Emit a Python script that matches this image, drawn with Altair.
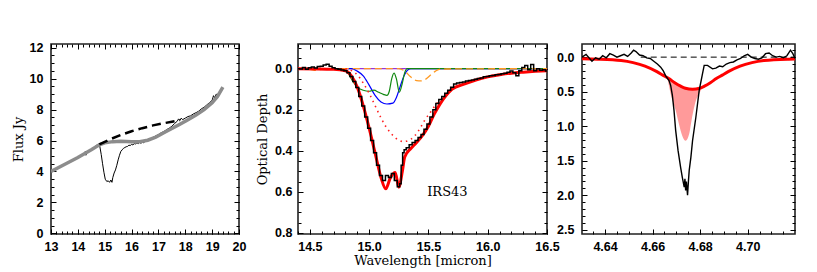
import altair as alt
import pandas as pd
import numpy as np

# ---------------- Panel 1: flux spectrum ----------------
p1_spec_x = [13.0, 13.1, 13.2, 13.3, 13.4, 13.5, 13.6, 13.7, 13.8, 13.9, 14.0, 14.1, 14.2, 14.28, 14.3, 14.33,
             14.4, 14.5, 14.6, 14.7, 14.78, 14.82, 14.87, 14.92, 14.97, 15.02, 15.08, 15.13, 15.18, 15.23, 15.27,
             15.3, 15.35, 15.4, 15.45, 15.5, 15.55, 15.6, 15.65, 15.7, 15.75, 15.8, 15.85, 15.9, 15.95, 16.0,
             16.05, 16.1, 16.15, 16.2, 16.25, 16.3, 16.35, 16.4, 16.45, 16.5, 16.6, 16.7, 16.8, 16.9, 17.0,
             17.1, 17.2, 17.3, 17.4, 17.5, 17.6, 17.7, 17.75, 17.8, 17.85, 17.9, 17.95, 18.0, 18.1, 18.2, 18.3,
             18.4, 18.5, 18.6, 18.7, 18.8, 18.9, 19.0, 19.05, 19.1, 19.15, 19.2, 19.25, 19.3, 19.35]
p1_spec_y = [4.0, 4.08, 4.18, 4.25, 4.38, 4.42, 4.55, 4.6, 4.72, 4.8, 4.92, 4.98, 5.1, 5.3, 5.05, 5.25,
             5.3, 5.45, 5.55, 5.7, 5.78, 5.6, 5.1, 4.5, 3.95, 3.5, 3.35, 3.4, 3.3, 3.45, 3.3,
             3.6, 3.9, 4.1, 4.4, 4.75, 5.05, 5.3, 5.4, 5.5, 5.55, 5.6, 5.62, 5.7, 5.68, 5.75,
             5.72, 5.8, 5.78, 5.85, 5.8, 5.88, 5.82, 5.9, 5.85, 5.95, 6.0, 6.1, 6.2, 6.3, 6.38,
             6.5, 6.58, 6.7, 6.8, 6.92, 7.1, 7.25, 7.4, 7.3, 7.45, 7.35, 7.4, 7.45, 7.55, 7.6, 7.72,
             7.8, 7.9, 8.05, 8.15, 8.3, 8.45, 8.6, 8.9, 8.75, 9.0, 8.95, 9.1, 9.2, 9.3]
p1_cont_x = [13.0, 13.5, 14.0, 14.5, 14.8, 15.0, 15.3, 15.6, 16.0, 16.3, 16.6, 16.9, 17.2, 17.5, 17.8, 18.1,
             18.4, 18.7, 19.0, 19.2, 19.4]
p1_cont_y = [4.0, 4.45, 4.9, 5.4, 5.72, 5.85, 5.93, 5.95, 5.93, 5.93, 6.02, 6.22, 6.5, 6.78, 7.05, 7.35,
             7.65, 8.0, 8.45, 8.85, 9.45]
p1_dash_x = [14.8, 15.2, 15.6, 16.0, 16.4, 16.8, 17.2, 17.5, 17.8]
p1_dash_y = [5.75, 6.08, 6.36, 6.6, 6.8, 6.98, 7.12, 7.22, 7.32]

# ---------------- Panel 2: 15 micron optical depth ----------------
p2_obs_x = [14.400, 14.425, 14.450, 14.475, 14.500, 14.525, 14.550, 14.575, 14.600, 14.625, 14.650, 14.675,
            14.700, 14.725, 14.750, 14.775, 14.800, 14.825, 14.850, 14.875, 14.900, 14.925, 14.950, 14.975,
            15.000, 15.025, 15.050, 15.075, 15.100, 15.125, 15.150, 15.175, 15.200, 15.225, 15.250, 15.265,
            15.275, 15.290, 15.300, 15.325, 15.350, 15.375, 15.400, 15.425, 15.450, 15.475, 15.500, 15.525,
            15.550, 15.575, 15.600, 15.625, 15.650, 15.675, 15.700, 15.725, 15.750, 15.775, 15.800, 15.825,
            15.850, 15.875, 15.900, 15.925, 15.950, 15.975, 16.000, 16.025, 16.050, 16.075, 16.100, 16.125,
            16.150, 16.175, 16.200, 16.225, 16.250, 16.275, 16.300, 16.325, 16.350, 16.375, 16.400, 16.425,
            16.450, 16.475, 16.500]
p2_obs_y = [0.000, 0.002, -0.005, 0.003, -0.004, -0.008, -0.003, -0.010, -0.012, -0.018, -0.022, -0.012,
            -0.004, 0.000, 0.003, 0.006, 0.010, 0.020, 0.038, 0.062, 0.092, 0.135, 0.182, 0.235,
            0.290, 0.350, 0.410, 0.470, 0.520, 0.545, 0.520, 0.530, 0.510, 0.545, 0.575, 0.560,
            0.470, 0.410, 0.395, 0.385, 0.370, 0.360, 0.350, 0.335, 0.320, 0.295, 0.270, 0.235,
            0.200, 0.170, 0.150, 0.135, 0.120, 0.105, 0.090, 0.075, 0.070, 0.068, 0.065, 0.060,
            0.058, 0.055, 0.052, 0.048, 0.045, 0.040, 0.038, 0.035, 0.033, 0.030, 0.028, 0.025,
            0.022, 0.018, 0.012, 0.020, 0.035, 0.010, -0.005, -0.015, 0.005, -0.020, 0.010, 0.000,
            0.008, 0.005, 0.012]
p2_fit_x = [14.4, 14.7, 14.8, 14.85, 14.9, 14.95, 15.0, 15.05, 15.1, 15.14, 15.18, 15.22, 15.25, 15.28, 15.3,
            15.35, 15.4, 15.45, 15.5, 15.55, 15.6, 15.65, 15.7, 15.8, 15.9, 16.0, 16.1, 16.2, 16.3, 16.4, 16.5]
p2_fit_y = [0.0, 0.003, 0.01, 0.035, 0.09, 0.18, 0.29, 0.41, 0.53, 0.585, 0.53, 0.505, 0.577, 0.5, 0.43,
            0.39, 0.36, 0.325, 0.28, 0.22, 0.17, 0.13, 0.1, 0.075, 0.055, 0.04, 0.03, 0.022, 0.017, 0.013, 0.01]
p2_broad_x = [14.8, 14.9, 14.95, 15.0, 15.05, 15.1, 15.15, 15.2, 15.25, 15.29, 15.33, 15.38, 15.43, 15.47,
              15.52, 15.57, 15.65, 15.7, 15.8, 15.9, 16.0, 16.1, 16.2, 16.3, 16.4, 16.5]
p2_broad_y = [0.0, 0.03, 0.07, 0.12, 0.18, 0.24, 0.29, 0.325, 0.348, 0.355, 0.35, 0.33, 0.29, 0.25,
              0.21, 0.17, 0.13, 0.1, 0.075, 0.055, 0.04, 0.03, 0.022, 0.017, 0.013, 0.01]
p2_blue_x = [14.4, 14.85, 14.9, 14.95, 15.0, 15.05, 15.1, 15.15, 15.2, 15.23, 15.26, 15.29, 15.32, 15.35, 16.5]
p2_blue_y = [0.0, 0.0, 0.012, 0.035, 0.08, 0.13, 0.162, 0.172, 0.168, 0.14, 0.09, 0.04, 0.01, 0.0, 0.0]
p2_green_x = [14.4, 14.78, 14.82, 14.86, 14.9, 14.95, 15.0, 15.04, 15.08, 15.12, 15.15, 15.17, 15.19, 15.21,
              15.23, 15.255, 15.28, 15.3, 15.32, 16.5]
p2_green_y = [0.0, 0.0, 0.02, 0.06, 0.09, 0.105, 0.11, 0.105, 0.115, 0.125, 0.13, 0.11, 0.05, 0.022,
              0.05, 0.115, 0.07, 0.02, 0.0, 0.0]
p2_orange_x = [14.4, 14.5, 14.55, 14.6, 14.7, 15.25, 15.3, 15.35, 15.4, 15.44, 15.48, 15.52, 15.56, 15.6, 16.5]
p2_orange_y = [0.0, 0.003, 0.008, 0.003, 0.0, 0.0, 0.012, 0.04, 0.058, 0.06, 0.05, 0.03, 0.012, 0.002, 0.0]
p2_purple_x = [14.4, 16.5]
p2_purple_y = [0.0, 0.0]
p2_label_x = [15.66]
p2_label_y = [0.60]
p2_label_text = ["IRS43"]

# ---------------- Panel 3: CO 4.67 micron optical depth ----------------
p3_obs_x = [4.6303, 4.6320, 4.6335, 4.6345, 4.6360, 4.6375, 4.6390, 4.6405, 4.6420, 4.6435, 4.6450, 4.6465,
            4.6480, 4.6495, 4.6510, 4.6520, 4.6530, 4.6545, 4.6560, 4.6575, 4.6590, 4.6605, 4.6620, 4.6634,
            4.6645, 4.6655, 4.6669, 4.6676, 4.6683, 4.6690, 4.6697, 4.6707, 4.6718, 4.6725, 4.6733, 4.6736,
            4.6739, 4.6742, 4.6747, 4.6751, 4.6754, 4.6761, 4.6768, 4.6782, 4.6796, 4.6810, 4.6817, 4.6831,
            4.6852, 4.6866, 4.6881, 4.6895, 4.6910, 4.6925, 4.6940, 4.6955, 4.6970, 4.6985, 4.7000, 4.7015,
            4.7030, 4.7045, 4.7060, 4.7075, 4.7090, 4.7105, 4.7120, 4.7135, 4.7150, 4.7165, 4.7180, 4.7190,
            4.7199]
p3_obs_y = [0.00, -0.04, 0.02, 0.06, 0.01, 0.03, -0.02, 0.01, -0.05, -0.03, 0.00, -0.02,
            -0.04, -0.01, -0.06, -0.10, -0.08, -0.03, -0.02, 0.01, 0.02, 0.06, 0.10, 0.145,
            0.20, 0.27, 0.34, 0.41, 0.55, 0.77, 1.06, 1.35, 1.60, 1.74, 1.88, 1.76,
            1.93, 1.80, 2.00, 1.78, 1.64, 1.45, 1.21, 0.87, 0.48, 0.24, 0.12, 0.12,
            0.17, 0.16, 0.13, 0.14, 0.10, 0.08, 0.07, 0.04, 0.02, -0.02, -0.04, 0.00,
            0.02, 0.03, 0.01, -0.05, -0.06, -0.02, 0.00, -0.01, 0.01, -0.02, -0.10, -0.05,
            0.02]
p3_broad_x = [4.6303, 4.6368, 4.6468, 4.6518, 4.6568, 4.6618, 4.6643, 4.6668, 4.6693, 4.6718, 4.6738,
              4.6768, 4.6798, 4.6818, 4.6843, 4.6868, 4.6893, 4.6918, 4.6968, 4.7018, 4.7068, 4.7168, 4.7199]
p3_broad_y = [0.025, 0.03, 0.05, 0.08, 0.13, 0.21, 0.26, 0.31, 0.37, 0.42, 0.45,
              0.465, 0.45, 0.42, 0.37, 0.31, 0.26, 0.21, 0.13, 0.08, 0.05, 0.03, 0.028]
p3_narrow_x = [4.6662, 4.6676, 4.6697, 4.6711, 4.6725, 4.6739, 4.6754, 4.6761, 4.6772, 4.6782, 4.6796, 4.6810]
p3_narrow_top = [0.30, 0.33, 0.36, 0.40, 0.43, 0.45, 0.46, 0.465, 0.465, 0.46, 0.45, 0.43]
p3_narrow_bot = [0.30, 0.53, 0.77, 0.97, 1.14, 1.21, 1.11, 0.97, 0.77, 0.63, 0.53, 0.43]
p3_zero_x = [4.6550, 4.7199]
p3_zero_y = [0.0, 0.0]

# ---------------- axis ticks ----------------
p1_x_major = [13, 14, 15, 16, 17, 18, 19, 20]
p1_x_minor = [round(v, 2) for v in np.arange(13.0, 20.01, 0.2)]
p1_y_major = [0, 2, 4, 6, 8, 10, 12]
p1_y_minor = [round(v, 2) for v in np.arange(0.0, 12.01, 0.5)]
p2_x_major = [14.5, 15.0, 15.5, 16.0, 16.5]
p2_x_minor = [round(v, 2) for v in np.arange(14.4, 16.51, 0.1)]
p2_y_major = [0.0, 0.2, 0.4, 0.6, 0.8]
p2_y_minor = [round(v, 3) for v in np.arange(-0.1, 0.801, 0.05)]
p3_x_major = [4.64, 4.66, 4.68, 4.70]
p3_x_minor = [round(v, 4) for v in np.arange(4.635, 4.7199, 0.005)]
p3_y_major = [0.0, 0.5, 1.0, 1.5, 2.0, 2.5]
p3_y_minor = [round(v, 2) for v in np.arange(-0.1, 2.51, 0.1)]

LF = "Liberation Sans"
TF = "DejaVu Serif"
H = 190


def df(x, y):
    return pd.DataFrame({"x": x, "y": y})


def lab_axis(orient, vals, fmt, pad, title=None, tpad=4):
    kw = dict(orient=orient, values=vals, format=fmt, labels=True, ticks=False, domain=False, grid=False,
              labelFont=LF, labelFontSize=12.5, labelFontWeight="bold", labelColor="black",
              labelPadding=pad, labelFlush=False, labelOverlap=False,
              titleFont=TF, titleFontSize=13, titleFontWeight="normal", titleColor="black",
              titlePadding=tpad)
    kw["title"] = title
    return alt.Axis(**kw)


def tick_axis(orient, vals, size):
    return alt.Axis(orient=orient, values=vals, labels=False, ticks=True, domain=False, grid=False,
                    tickSize={"expr": str(-size)}, tickColor="black", tickWidth=1, title=None)


def axis_layer(data, xs, ys, xaxis, yaxis):
    return alt.Chart(data).mark_point(opacity=0, clip=True).encode(
        x=alt.X("x:Q", scale=xs, axis=xaxis),
        y=alt.Y("y:Q", scale=ys, axis=yaxis))


def line(data, xs, ys, **mk):
    return alt.Chart(data).mark_line(clip=True, **mk).encode(
        x=alt.X("x:Q", scale=xs, axis=None),
        y=alt.Y("y:Q", scale=ys, axis=None),
        order=alt.Order("x:Q"))


def frame_axes(data, xs, ys, xmaj, xmin, ymaj, ymin, xlab, ylab, xfmt, yfmt, xtitle, ytitle, xpad, ypad, ytpad):
    return [
        axis_layer(data, xs, ys, lab_axis("bottom", xlab, xfmt, xpad, xtitle, 2),
                   lab_axis("left", ylab, yfmt, ypad, ytitle, ytpad)),
        axis_layer(data, xs, ys, tick_axis("bottom", xmaj, 5), tick_axis("left", ymaj, 5)),
        axis_layer(data, xs, ys, tick_axis("bottom", xmin, 3), tick_axis("left", ymin, 3)),
        axis_layer(data, xs, ys, tick_axis("top", xmaj, 5), tick_axis("right", ymaj, 5)),
        axis_layer(data, xs, ys, tick_axis("top", xmin, 3), tick_axis("right", ymin, 3)),
    ]


# ---- panel 1
xs1 = alt.Scale(domain=[13, 20], nice=False, zero=False)
ys1 = alt.Scale(domain=[-0.04, 12.24], nice=False, zero=False)
d1 = df(p1_spec_x, p1_spec_y)
p1 = alt.layer(
    *frame_axes(d1, xs1, ys1, p1_x_major, p1_x_minor, p1_y_major, p1_y_minor,
                p1_x_major, p1_y_major, "d", "d", None, "Flux Jy", 6, 8, 4),
    line(d1, xs1, ys1, color="black", strokeWidth=1),
    line(df(p1_cont_x, p1_cont_y), xs1, ys1, color="#8c8c8c", strokeWidth=3.5),
    line(df(p1_dash_x, p1_dash_y), xs1, ys1, color="black", strokeWidth=2.5, strokeDash=[9, 5]),
).resolve_axis(x="independent", y="independent").properties(width=188, height=H)

# ---- panel 2
xs2 = alt.Scale(domain=[14.4, 16.5], nice=False, zero=False)
ys2 = alt.Scale(domain=[-0.12, 0.805], nice=False, zero=False, reverse=True)
d2 = df(p2_obs_x, p2_obs_y)
lab2 = pd.DataFrame({"x": p2_label_x, "y": p2_label_y, "t": p2_label_text})
p2 = alt.layer(
    *frame_axes(d2, xs2, ys2, p2_x_major, p2_x_minor, p2_y_major, p2_y_minor,
                p2_x_major, p2_y_major, ".1f", ".1f", "Wavelength [micron]", "Optical Depth", 6, 6, 5),
    line(df(p2_purple_x, p2_purple_y), xs2, ys2, color="#9933dd", strokeWidth=1.2),
    line(df(p2_blue_x, p2_blue_y), xs2, ys2, color="#0000ff", strokeWidth=1.2, interpolate="monotone"),
    line(df(p2_green_x, p2_green_y), xs2, ys2, color="#118811", strokeWidth=1.2, interpolate="monotone"),
    line(df(p2_orange_x, p2_orange_y), xs2, ys2, color="#ff9922", strokeWidth=1.3, strokeDash=[7, 4],
         interpolate="monotone"),
    line(df(p2_broad_x, p2_broad_y), xs2, ys2, color="#ff2020", strokeWidth=1.6, strokeDash=[1.5, 4],
         interpolate="monotone"),
    line(df(p2_fit_x, p2_fit_y), xs2, ys2, color="#ff0000", strokeWidth=3, interpolate="monotone"),
    line(d2, xs2, ys2, color="black", strokeWidth=1.5, interpolate="step"),
    alt.Chart(lab2).mark_text(font=TF, fontSize=13, color="black").encode(
        x=alt.X("x:Q", scale=xs2, axis=None), y=alt.Y("y:Q", scale=ys2, axis=None), text="t:N"),
).resolve_axis(x="independent", y="independent").properties(width=249, height=H)

# ---- panel 3
xs3 = alt.Scale(domain=[4.6303, 4.7199], nice=False, zero=False)
ys3 = alt.Scale(domain=[-0.19, 2.56], nice=False, zero=False, reverse=True)
d3 = df(p3_obs_x, p3_obs_y)
pink = pd.DataFrame({"x": p3_narrow_x, "top": p3_narrow_top, "bot": p3_narrow_bot})
p3 = alt.layer(
    *frame_axes(d3, xs3, ys3, p3_x_major, p3_x_minor, p3_y_major, p3_y_minor,
                p3_x_major, p3_y_major, ".2f", ".1f", None, None, 6, 8, 4),
    alt.Chart(pink).mark_area(color="#ff9a9a", opacity=1, clip=True, interpolate="monotone").encode(
        x=alt.X("x:Q", scale=xs3, axis=None),
        y=alt.Y("top:Q", scale=ys3, axis=None),
        y2="bot:Q"),
    line(df(p3_broad_x, p3_broad_y), xs3, ys3, color="#ff0000", strokeWidth=3, interpolate="monotone"),
    line(df(p3_zero_x, p3_zero_y), xs3, ys3, color="black", strokeWidth=1, strokeDash=[6, 4]),
    line(d3, xs3, ys3, color="black", strokeWidth=1.4),
).resolve_axis(x="independent", y="independent").properties(width=213, height=H)


def spacer(w):
    return alt.Chart(pd.DataFrame({"x": [0], "y": [0]})).mark_point(opacity=0).encode(
        x=alt.X("x:Q", axis=None), y=alt.Y("y:Q", axis=None)
    ).properties(width=w, height=H, view=alt.ViewBackground(stroke="transparent"))


chart = alt.hconcat(p1, spacer(59), p2, spacer(35), p3, spacing=0, bounds="flush").properties(
    padding={"left": 3, "top": 32, "right": 4, "bottom": 4}
).configure_view(stroke="#222222", strokeWidth=1.6)

chart.save("out.html", embed_options={"renderer": "svg", "actions": False})
